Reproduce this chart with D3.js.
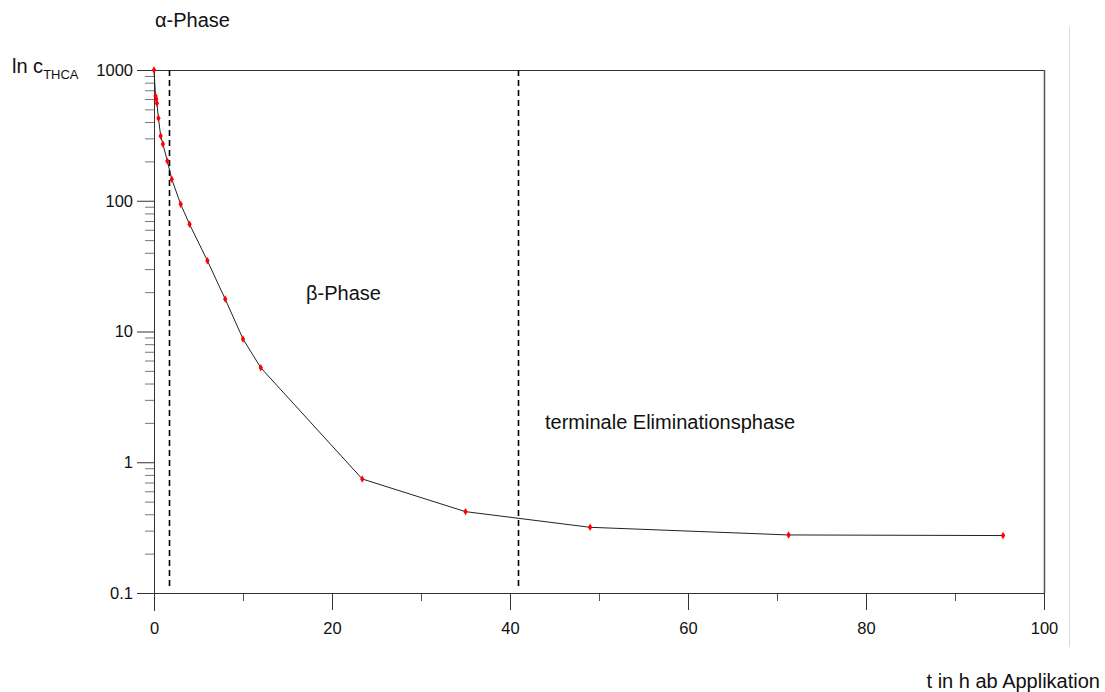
<!DOCTYPE html>
<html>
<head>
<meta charset="utf-8">
<script src="https://cdn.jsdelivr.net/npm/d3@7"></script>
<style>
  html, body { margin: 0; padding: 0; background: #fff; }
  svg { display: block; font-family: "Liberation Sans", Arial, sans-serif; }
</style>
</head>
<body>
<svg id="chart" width="1105" height="692"></svg>
<script>
// ---- data ----
const times = [0, 0.17, 0.25, 0.33, 0.5, 0.75, 1, 1.5, 2, 3, 4, 6, 8, 10, 12, 23.4, 35, 49, 71.3, 95.4];
const conc  = [1000, 632, 600, 556, 427, 313, 272, 201, 146, 94, 66, 34.8, 17.7, 8.77, 5.28, 0.745, 0.419, 0.318, 0.278, 0.275];
const phaseBoundaries = [1.7, 40.9];
const xMajorTicks = [0, 20, 40, 60, 80, 100];
const xMinorTicks = [10, 30, 50, 70, 90];
const yMajorTicks = [0.1, 1, 10, 100, 1000];
const yTickLabels = ["0.1", "1", "10", "100", "1000"];
const phaseLabels = ["α-Phase", "β-Phase", "terminale Eliminationsphase"];
const xAxisTitle = "t in h ab Applikation";

(function () {
const svg = d3.select("#chart");
const pL = 154, pR = 1044, pT = 70, pB = 593;

const x = d3.scaleLinear().domain([0, 100]).range([pL, pR]);
const y = d3.scaleLog().domain([0.1, 1000]).range([pB, pT]);

// minor y ticks
const yMinorTicks = [];
[0.1, 1, 10, 100].forEach(d => { for (let k = 2; k <= 9; k++) yMinorTicks.push(+(d * k).toPrecision(3)); });

// faint vertical line at right
svg.append("line").attr("x1", 1069.5).attr("x2", 1069.5).attr("y1", 27).attr("y2", 647)
  .attr("stroke", "#dcdcdc").attr("stroke-width", 1);

// y minor axis
const gyMinor = svg.append("g").attr("transform", `translate(${pL},0)`)
  .call(d3.axisLeft(y).tickValues(yMinorTicks).tickSize(9).tickFormat(""));
gyMinor.select(".domain").remove();
gyMinor.selectAll(".tick line").attr("stroke", "#777");

// y major axis
const gy = svg.append("g").attr("transform", `translate(${pL},0)`)
  .call(d3.axisLeft(y).tickValues(yMajorTicks).tickSize(17).tickPadding(4)
    .tickFormat((d, i) => yTickLabels[i]));
gy.select(".domain").remove();
gy.selectAll(".tick line").attr("stroke", "#333");
gy.selectAll(".tick text").attr("font-size", "16.5px").attr("fill", "#111")
  .attr("font-family", "'Liberation Sans', Arial, sans-serif");

// x minor axis
const gxMinor = svg.append("g").attr("transform", `translate(0,${pB})`)
  .call(d3.axisBottom(x).tickValues(xMinorTicks).tickSize(8).tickFormat(""));
gxMinor.select(".domain").remove();
gxMinor.selectAll(".tick line").attr("stroke", "#555");

// x major axis
const gx = svg.append("g").attr("transform", `translate(0,${pB})`)
  .call(d3.axisBottom(x).tickValues(xMajorTicks).tickSize(17).tickPadding(12).tickFormat(d3.format("d")));
gx.select(".domain").remove();
gx.selectAll(".tick line").attr("stroke", "#333");
gx.selectAll(".tick text").attr("font-size", "16.5px").attr("fill", "#111")
  .attr("font-family", "'Liberation Sans', Arial, sans-serif");

// frame lines
const frame = svg.append("g").attr("stroke", "#333").attr("stroke-width", 1).attr("fill", "none");
frame.append("line").attr("x1", pL + 0.5).attr("x2", pL + 0.5).attr("y1", pT).attr("y2", pB + 18);
frame.append("line").attr("x1", pL - 17).attr("x2", pR).attr("y1", pB + 0.5).attr("y2", pB + 0.5);
frame.append("line").attr("x1", pL).attr("x2", pR).attr("y1", pT + 0.5).attr("y2", pT + 0.5);
frame.append("line").attr("x1", pR + 0.5).attr("x2", pR + 0.5).attr("y1", pT).attr("y2", pB)
  .attr("stroke", "#555").attr("stroke-width", 1.5);

// dashed phase boundaries
svg.append("g").selectAll("line").data(phaseBoundaries).join("line")
  .attr("x1", d => Math.round(x(d)) + 0.5).attr("x2", d => Math.round(x(d)) + 0.5)
  .attr("y1", pT).attr("y2", pB - 3)
  .attr("stroke", "#000").attr("stroke-width", 1.6).attr("stroke-dasharray", "6,4");

// data line
const data = times.map((t, i) => ({ t, c: conc[i] }));
svg.append("path").datum(data)
  .attr("fill", "none").attr("stroke", "#222").attr("stroke-width", 1)
  .attr("d", d3.line().x(d => x(d.t)).y(d => y(d.c)));

// markers
svg.append("g").selectAll("path").data(data).join("path")
  .attr("transform", d => `translate(${x(d.t)},${y(d.c)})`)
  .attr("d", d3.symbol(d3.symbolDiamond, 16))
  .attr("fill", "#ff0000");

// texts
const txt = (s, xx, yy, size, anchor) => svg.append("text").attr("x", xx).attr("y", yy)
  .attr("font-size", size + "px").attr("fill", "#111").attr("text-anchor", anchor || "start").text(s);

txt(phaseLabels[0], 155, 27, 20);
txt(phaseLabels[1], 306, 300, 20);
txt(phaseLabels[2], 545, 429, 20);
txt(xAxisTitle, 1100, 688, 20, "end");

const yl = svg.append("text").attr("x", 12).attr("y", 73).attr("font-size", "20px").attr("fill", "#111");
yl.append("tspan").text("ln c");
yl.append("tspan").attr("font-size", "13px").attr("dy", 6).text("THCA");
})();
</script>
</body>
</html>
